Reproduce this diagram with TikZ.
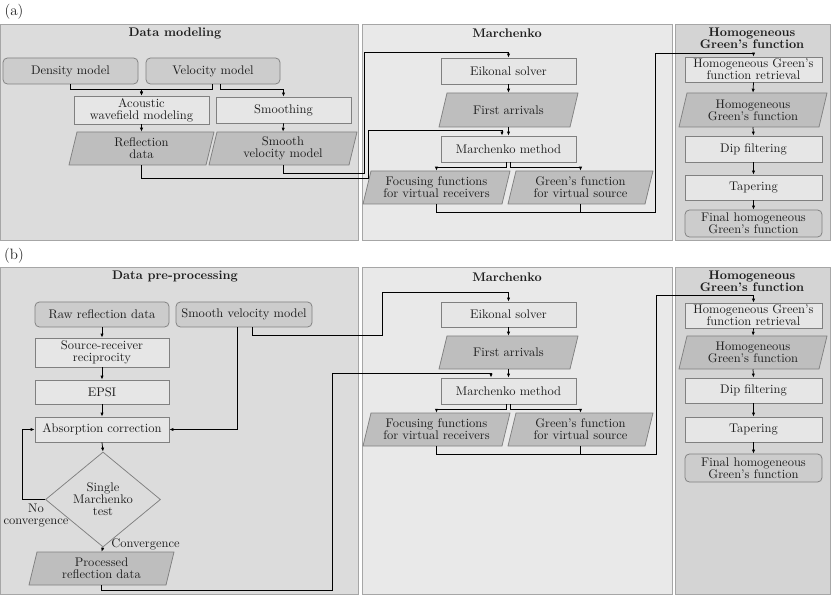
\documentclass[tikz,border=0pt]{standalone}
\usetikzlibrary{arrows.meta,shapes.geometric,calc}
\definecolor{dmfill}{HTML}{DCDCDC}
\definecolor{marfill}{HTML}{E9E9E9}
\definecolor{homfill}{HTML}{D4D4D4}
\definecolor{pborder}{HTML}{A6A6A6}
\definecolor{bborder}{HTML}{808080}
\definecolor{procfill}{HTML}{E6E6E6}
\definecolor{parfill}{HTML}{BEBEBE}
\definecolor{rndfill}{HTML}{CCCCCC}
\definecolor{txt}{HTML}{1E1E1E}
\newcommand\mypara[6]{%
 \draw[parashape] ({#2-(#4-8)/2+4},{#3-#5/2}) -- ({#2+(#4-8)/2+4},{#3-#5/2}) -- ({#2+(#4-8)/2-4},{#3+#5/2}) -- ({#2-(#4-8)/2-4},{#3+#5/2}) -- cycle;
 \node[minimum width={(#4-8)*0.8pt}, minimum height={#5*0.8pt}] (#1) at (#2,#3) {#6};}
\begin{document}
\begin{tikzpicture}[x=0.8pt,y=-0.8pt,
  every node/.style={font=\fontsize{10}{9.6}\selectfont, text=txt, align=center, inner sep=0pt},
  panel/.style={draw=pborder, fill=#1, line width=0.8pt},
  ptitle/.style={font=\fontsize{10}{9}\selectfont\bfseries},
  pbox/.style={draw=bborder, fill=procfill, line width=0.6pt},
  rbox/.style={draw=bborder, fill=rndfill, line width=0.6pt, rounded corners=3.5pt},
  parashape/.style={draw=bborder, fill=parfill, line width=0.6pt},
  conn/.style={line width=0.6pt, draw=black},
  arr/.style={conn, -{Latex[length=3.2pt,width=2.6pt]}},
  lbl/.style={font=\fontsize{10}{9.6}\selectfont}
]
\useasboundingbox (0,0) rectangle (831,595);
\fill[white] (0,0) rectangle (831,595);
% ---------- (a) ----------
\node[font=\large] (la) at (14,12) {(a)};
\draw[panel=dmfill] (1,25) rectangle (358,241);
\draw[panel=marfill] (362,25) rectangle (672,241);
\draw[panel=homfill] (675,25) rectangle (830,241);
\node[ptitle] (t1) at (175,33) {Data modeling};
\node[ptitle] (t2) at (507,33) {Marchenko};
\node[ptitle] (t3) at (752,38.5) {Homogeneous\\Green's function};

\node[rbox, minimum width=108pt, minimum height=20.8pt] (dens) at (70.5,71) {Density model};
\node[rbox, minimum width=107.2pt, minimum height=20.8pt] (vel) at (213,71) {Velocity model};
\node[pbox, minimum width=108pt, minimum height=22.4pt] (ac) at (141.5,110) {Acoustic\\wavefield modeling};
\node[pbox, minimum width=108pt, minimum height=20.8pt] (smo) at (283.5,110) {Smoothing};
\mypara{refl}{141.5}{148.5}{145}{33}{Reflection\\data}
\mypara{svm}{283}{148.5}{148}{33}{Smooth\\velocity model}

\node[pbox, minimum width=108pt, minimum height=20.8pt] (eik) at (508.5,71) {Eikonal solver};
\mypara{fa}{508.5}{110}{139}{34}{First arrivals}
\node[pbox, minimum width=108pt, minimum height=20.8pt] (mm) at (508.5,149) {Marchenko method};
\mypara{foc}{436.5}{187.5}{147}{33}{Focusing functions\\for virtual receivers}
\mypara{gf}{580.5}{187.5}{145}{33}{Green's function\\for virtual source}

\node[pbox, minimum width=109.6pt, minimum height=20pt] (hr) at (753.5,69.5) {Homogeneous Green's\\function retrieval};
\mypara{hg}{753}{110}{148}{34}{Homogeneous\\Green's function}
\node[pbox, minimum width=109.6pt, minimum height=20.8pt] (dip) at (753.5,149) {Dip filtering};
\node[pbox, minimum width=109.6pt, minimum height=20pt] (tap) at (753.5,187.5) {Tapering};
\node[rbox, minimum width=109.6pt, minimum height=21.6pt] (fin) at (753.5,223.5) {Final homogeneous\\Green's function};

% connectors (a)
\draw[arr] (dens.south) -- ++(0,5) -| (ac.north);
\draw[arr] ([xshift=-0.8pt]vel.south) -- ++(0,5) -| (ac.north);
\draw[arr] ([xshift=5.6pt]vel.south) -- ++(0,5) -| (smo.north);
\draw[arr] (ac.south) -- (refl.north);
\draw[arr] (smo.south) -- (svm.north);
\draw[arr] (svm.south) |- (364,173) -- (364,52) -| (eik.north);
\draw[arr] (refl.south) |- (368,178) -- (368,130) -| ([xshift=-5.2pt]mm.north);
\draw[arr] (eik.south) -- (fa.north);
\draw[arr] (fa.south) -- (mm.north);
\draw[arr] ([xshift=-1.6pt]mm.south) -- ++(0,5) -| (foc.north);
\draw[arr] ([xshift=1.6pt]mm.south) -- ++(0,5) -| (gf.north);
\draw[conn] (gf.south) |- (655,212);
\draw[arr] (foc.south) |- (655,212) -- (655,53) -| (hr.north);
\draw[arr] (hr.south) -- (hg.north);
\draw[arr] (hg.south) -- (dip.north);
\draw[arr] (dip.south) -- (tap.north);
\draw[arr] (tap.south) -- (fin.north);

% ---------- (b) ----------
\node[font=\large] (lb) at (14,256) {(b)};
\draw[panel=dmfill] (1,268) rectangle (358,594);
\draw[panel=marfill] (362,268) rectangle (672,594);
\draw[panel=homfill] (675,268) rectangle (830,594);
\node[ptitle] (t4) at (175,276) {Data pre-processing};
\node[ptitle] (t5) at (507,277) {Marchenko};
\node[ptitle] (t6) at (752,281.5) {Homogeneous\\Green's function};

\node[rbox, minimum width=107.2pt, minimum height=20pt] (raw) at (102,314.5) {Raw reflection data};
\node[rbox, minimum width=108.8pt, minimum height=20pt] (svmb) at (244,314.5) {Smooth velocity model};
\node[pbox, minimum width=107.2pt, minimum height=23.2pt] (srr) at (102,352.5) {Source-receiver\\reciprocity};
\node[pbox, minimum width=107.2pt, minimum height=19.2pt] (epsi) at (102,392) {EPSI};
\node[pbox, minimum width=107.2pt, minimum height=20pt] (abs) at (102,429.5) {Absorption correction};
\node[diamond, draw=bborder, line width=0.6pt, aspect=1.21, minimum width=92pt, minimum height=76pt] (dia) at (103,499.5) {Single\\Marchenko\\test};
\mypara{proc}{101.5}{568.5}{145}{33}{Processed\\reflection data}
\node[lbl] (nc) at (36,516) {No\\convergence};
\node[lbl, anchor=west] (cv) at (111,544) {Convergence};

\node[pbox, minimum width=108pt, minimum height=20pt] (eikb) at (508.5,314.5) {Eikonal solver};
\mypara{fab}{508.5}{352.5}{139}{33}{First arrivals}
\node[pbox, minimum width=108pt, minimum height=20.8pt] (mmb) at (508.5,391) {Marchenko method};
\mypara{focb}{436.5}{429.5}{147}{33}{Focusing functions\\for virtual receivers}
\mypara{gfb}{580.5}{429.5}{145}{33}{Green's function\\for virtual source}

\node[pbox, minimum width=109.6pt, minimum height=20pt] (hrb) at (753.5,315.5) {Homogeneous Green's\\function retrieval};
\mypara{hgb}{753}{352.5}{148}{33}{Homogeneous\\Green's function}
\node[pbox, minimum width=109.6pt, minimum height=20pt] (dipb) at (753.5,390.5) {Dip filtering};
\node[pbox, minimum width=109.6pt, minimum height=20pt] (tapb) at (753.5,429.5) {Tapering};
\node[rbox, minimum width=109.6pt, minimum height=22.4pt] (finb) at (753.5,468) {Final homogeneous\\Green's function};

% connectors (b)
\draw[arr] (raw.south) -- (srr.north);
\draw[arr] (srr.south) -- (epsi.north);
\draw[arr] (epsi.south) -- (abs.north);
\draw[arr] (abs.south) -- (dia.north);
\draw[arr] (dia.south) -- (proc.north);
\draw[arr] (dia.west) -| ([xshift=-9.6pt]abs.west) -- (abs.west);
\draw[arr] ([xshift=-5.6pt]svmb.south) |- (abs.east);
\draw[arr] ([xshift=6.4pt]svmb.south) |- (382,335) -- (382,292) -| (eikb.north);
\draw[arr] (proc.south) |- (332,590) -- (332,373) -| ([xshift=-14pt]mmb.north);
\draw[arr] (eikb.south) -- (fab.north);
\draw[arr] (fab.south) -- (mmb.north);
\draw[arr] ([xshift=-1.6pt]mmb.south) -- ++(0,5) -| (focb.north);
\draw[arr] ([xshift=1.6pt]mmb.south) -- ++(0,5) -| (gfb.north);
\draw[conn] (gfb.south) |- (656,454);
\draw[arr] (focb.south) |- (656,454) -- (656,295) -| (hrb.north);
\draw[arr] (hrb.south) -- (hgb.north);
\draw[arr] (hgb.south) -- (dipb.north);
\draw[arr] (dipb.south) -- (tapb.north);
\draw[arr] (tapb.south) -- (finb.north);
\end{tikzpicture}
\end{document}
